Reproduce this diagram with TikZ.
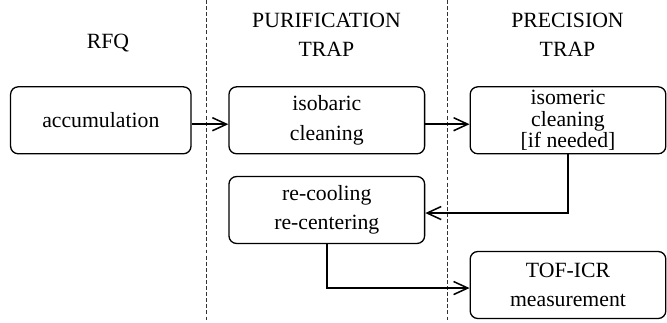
\documentclass[tikz,border=0pt]{standalone}
\usepackage{fontspec}
\setmainfont{Liberation Serif}
\usetikzlibrary{arrows.meta}
\begin{document}
\begin{tikzpicture}
  [x=0.46pt,y=-0.46pt,
   stage/.style={rectangle,rounded corners=3.5pt,draw=black,line width=0.6pt,
     minimum height=30.8pt,inner sep=0pt,align=center,
     font=\fontsize{10}{13.5}\selectfont},
   header/.style={align=center,font=\fontsize{10}{13.5}\selectfont},
   flow/.style={->,line width=0.7pt},
   >={Straight Barb[length=6.5pt,width=6pt]}]
\useasboundingbox (0,0) rectangle (667,322); % fix margins
% trap borders
\draw [dashed, dash pattern=on 1.8pt off 1pt, line width=0.4pt, black!80] (206.5,0) -- (206.5,322);
\draw [dashed, dash pattern=on 1.8pt off 1pt, line width=0.4pt, black!80] (447,0) -- (447,322);
% headers
\node at (108,42.7) (rfq) [header] {RFQ};
\node at (326.5,34.5) (purif) [header] {PURIFICATION\\TRAP};
\node at (567.5,34.5) (prec) [header] {PRECISION\\TRAP};
% stages
\node at (100.8,120.3) (accu) [stage, minimum width=83pt] {accumulation};
\node at (326.8,120.3) (isob) [stage, minimum width=90pt] {isobaric\\cleaning};
\node at (568,120.3) (isom) [stage, minimum width=90pt,
  font=\fontsize{10}{10}\selectfont] {isomeric\\cleaning\\{}[if needed]};
\node at (326.8,210) (recool) [stage, minimum width=90pt] {re-cooling\\re-centering};
\node at (568,285) (tof) [stage, minimum width=90pt] {TOF-ICR\\measurement};
%
\draw [flow] ([yshift=-1.8pt]accu.east) -- ([yshift=-1.8pt]isob.west);
\draw [flow] ([yshift=-1.8pt]isob.east) -- ([yshift=-1.8pt]isom.west);
\draw [flow] (isom.south) |- ([yshift=-1.4pt]recool.east);
\draw [flow] (recool.south) |- ([yshift=-1.4pt]tof.west);
\end{tikzpicture}
\end{document}
